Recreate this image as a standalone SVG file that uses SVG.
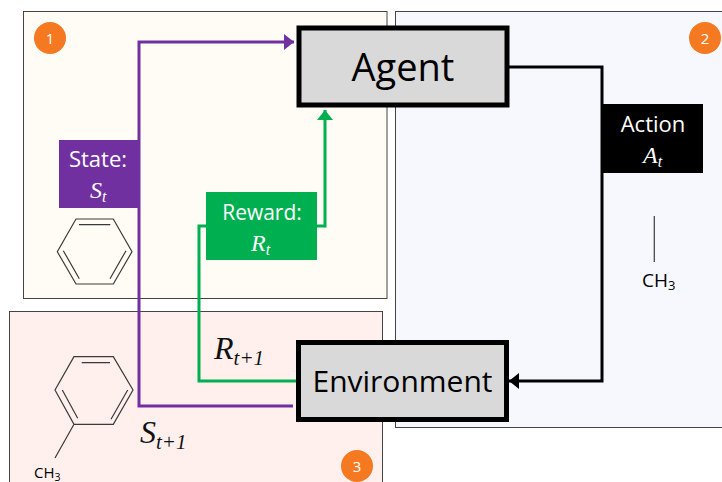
<svg xmlns="http://www.w3.org/2000/svg" width="722" height="482" viewBox="0 0 722 482">
<style>
.panel{stroke:#444;stroke-width:1}
.box{fill:#d9d9d9;stroke:#000;stroke-width:5}
.mol{fill:none;stroke:#3a3a3a;stroke-width:1.2}
.conn{fill:none;stroke-width:3}
.sans{font-family:"Open Sans","Noto Sans",sans-serif}
.math{font-family:"Liberation Serif",serif;font-style:italic}
.w{fill:#fff}
.c{text-anchor:middle}
.badge{fill:#f47920}
</style>
<defs>
<marker id="hp" markerUnits="userSpaceOnUse" markerWidth="12" markerHeight="16" refX="10" refY="8" orient="auto"><path d="M0 0L10 8L0 16Z" fill="#7030a0" transform="translate(0 0)"/></marker>
<marker id="hg" markerUnits="userSpaceOnUse" markerWidth="12" markerHeight="16" refX="10" refY="8" orient="auto"><path d="M0 0L10 8L0 16Z" fill="#00b050"/></marker>
<marker id="hk" markerUnits="userSpaceOnUse" markerWidth="12" markerHeight="16" refX="10" refY="8" orient="auto"><path d="M0 0L10 8L0 16Z" fill="#000"/></marker>
</defs>
<g id="panel-1"><rect class="panel" x="23.5" y="11.5" width="363.5" height="287" fill="#fffcf5"/></g>
<g id="panel-2"><rect class="panel" x="395.5" y="11.5" width="330" height="416" fill="#f7f8fd"/></g>
<g id="panel-3"><rect class="panel" x="9.5" y="311.5" width="373" height="175" fill="#fff0ee"/></g>
<g id="connectors">
<path class="conn" stroke="#7030a0" d="M293 406H139V42H294" marker-end="url(#hp)"/>
<path class="conn" stroke="#00b050" d="M297 381H199V226H206"/>
<path class="conn" stroke="#00b050" d="M317 226H325V110" marker-end="url(#hg)"/>
<path class="conn" stroke="#000" d="M509 67H602V381H509" marker-end="url(#hk)"/>
</g>
<g id="molecule-benzene"><path class="mol" d="M57.3 251.7L76 284H113.3L132 251.7L113.3 219H76ZM79 224.7H110.3M63.3 250.7L79.3 278.7M126 250.7L110 278.7"/></g>
<g id="molecule-toluene"><path class="mol" d="M55 390L74 424.3H113.3L133 390L113.3 356.7H74ZM81.7 362.7H110M62.3 390L77.7 418.3M127.7 390L111 419.3M74 424.3L55 458"/>
<text class="sans" x="34" y="478" font-size="15" fill="#000">CH<tspan font-size="10.5" dy="3">3</tspan></text></g>
<g id="molecule-methyl"><path class="mol" d="M654.3 216V262"/>
<text class="sans" x="642" y="287" font-size="19" fill="#000">CH<tspan font-size="13" dy="3">3</tspan></text></g>
<g id="node-agent"><rect class="box" x="299" y="28" width="208" height="77"/>
<text class="sans c" x="403" y="81" font-size="38" fill="#000">Agent</text></g>
<g id="node-environment"><rect class="box" x="298.500" y="342.500" width="208" height="77"/>
<text class="sans c" x="402.500" y="392" font-size="30" fill="#000">Environment</text></g>
<g id="label-state"><rect x="59" y="140" width="80" height="68" fill="#7030a0"/>
<text class="sans w c" x="98" y="167" font-size="22">State:</text>
<text class="math w" x="90" y="198" font-size="24">S<tspan font-size="16" dy="4">t</tspan></text></g>
<g id="label-reward"><rect x="206" y="192" width="111" height="68" fill="#00b050"/>
<text class="sans w c" x="262" y="220" font-size="21">Reward:</text>
<text class="math w" x="251" y="251" font-size="24">R<tspan font-size="16" dy="4">t</tspan></text></g>
<g id="label-action"><rect x="602.700" y="104" width="100.300" height="69" fill="#000"/>
<text class="sans w c" x="653" y="132" font-size="22">Action</text>
<text class="math w" x="643" y="163" font-size="24">A<tspan font-size="16" dy="4">t</tspan></text></g>
<g id="label-rt1"><text class="math" x="214" y="359" font-size="32" fill="#111">R<tspan font-size="21" dy="6">t+1</tspan></text></g>
<g id="label-st1"><text class="math" x="140" y="443" font-size="32" fill="#111">S<tspan font-size="21" dy="6">t+1</tspan></text></g>
<g id="badge-1"><circle class="badge" cx="50" cy="38" r="16"/><text class="sans w c" x="50" y="44" font-size="15">1</text></g>
<g id="badge-2"><circle class="badge" cx="705" cy="38" r="16"/><text class="sans w c" x="705" y="44" font-size="15">2</text></g>
<g id="badge-3"><circle class="badge" cx="357" cy="466" r="16"/><text class="sans w c" x="357" y="472" font-size="15">3</text></g>
</svg>
